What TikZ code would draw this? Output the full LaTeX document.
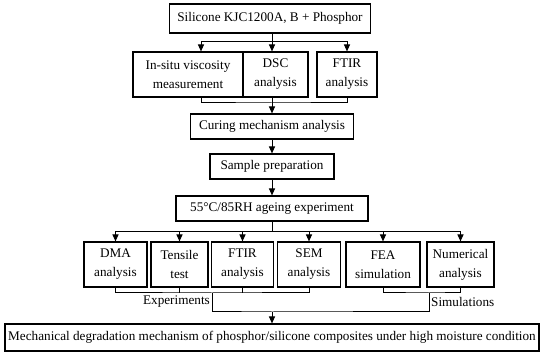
\documentclass[tikz,border=0pt]{standalone}
\usepackage{fontspec}
\setmainfont{Liberation Serif}
\usepackage{tikz}
\usetikzlibrary{arrows.meta}
\tikzset{
    box/.style={draw, line width=1.1pt, align=center, inner sep=1pt},
    link/.style={line width=1pt},
    arr/.style={link, -{Triangle[length=7pt, width=6pt]}},
}

\begin{document}
\begin{tikzpicture}[x=1pt, y=-1pt, font=\fontsize{13.2}{19}\selectfont]
    \useasboundingbox (0,0) rectangle (550,355);
    %% first stage: curing
    \node[box, minimum width=201pt, minimum height=29pt] (top) at (270,18.5) {Silicone KJC1200A, B + Phosphor};
    \node[box, minimum width=110pt, minimum height=45pt] (visc) at (188,74.5) {In-situ viscosity\\measurement};
    \node[box, minimum width=65pt, minimum height=45pt] (dsc) at (275.5,74.5) {DSC\\analysis};
    \node[box, minimum width=60pt, minimum height=45pt] (ftirA) at (347,74.5) {FTIR\\analysis};
    \node[box, minimum width=163pt, minimum height=25pt] (cure) at (272,126.5) {Curing mechanism analysis};
    \node[box, minimum width=124pt, minimum height=25pt] (sample) at (272,166.5) {Sample preparation};
    \node[box, minimum width=192pt, minimum height=25pt] (ageing) at (272,208.5) {55°C/85RH ageing experiment};
    %% second stage: tests after ageing
    \node[box, minimum width=63pt, minimum height=45pt] (dma) at (115.5,264.5) {DMA\\analysis};
    \node[box, minimum width=57pt, minimum height=45pt] (tensile) at (179.5,264.5) {Tensile\\test};
    \node[box, minimum width=62pt, minimum height=45pt] (ftirB) at (242.5,264.5) {FTIR\\analysis};
    \node[box, minimum width=63pt, minimum height=45pt] (sem) at (309,264.5) {SEM\\analysis};
    \node[box, minimum width=74pt, minimum height=45pt] (fea) at (383,264.5) {FEA\\simulation};
    \node[box, minimum width=67pt, minimum height=45pt] (num) at (460.5,264.5) {Numerical\\analysis};
    \node[box, minimum width=534pt, minimum height=27pt] (final) at (272,337.5) {Mechanical degradation mechanism of phosphor/silicone composites under high moisture condition};
    %% joints
    \coordinate (axis) at (272,0);
    \coordinate (b1) at (272,42);
    \coordinate (c1) at (272,103);
    \coordinate (b2) at (272,232);
    \coordinate (exp) at (212,293);
    \coordinate (sim) at (429,293);
    \coordinate (j) at (272,312);
    %% top fork
    \draw[link] (axis |- top.south) -- (b1);
    \draw[arr] (b1) -| ([xshift=13pt]visc.north);
    \draw[arr] (b1) -- (axis |- dsc.north);
    \draw[arr] (b1) -| (ftirA.north);
    %% gather into curing analysis
    \draw[link] ([xshift=13pt]visc.south) |- (c1) -| (ftirA.south);
    \draw[arr] (axis |- dsc.south) -- (cure.north);
    \draw[arr] (cure.south) -- (sample.north);
    \draw[arr] (sample.south) -- (ageing.north);
    %% second fork
    \draw[link] (ageing.south) -- (b2);
    \draw[arr] (b2) -| (dma.north);
    \draw[arr] (b2) -| (tensile.north);
    \draw[arr] (b2) -| (ftirB.north);
    \draw[arr] (b2) -| (sem.north);
    \draw[arr] (b2) -| (fea.north);
    \draw[arr] (b2) -| (num.north);
    %% experiments and simulations
    \draw[link] (dma.south) |- (exp) -| (sem.south);
    \draw[link] (tensile.south) -- (tensile.south |- exp);
    \draw[link] (ftirB.south) -- (ftirB.south |- exp);
    \draw[link] (fea.south) |- (sim) -| (num.south);
    \node[anchor=east, inner sep=1pt] (explbl) at (211,302) {Experiments};
    \node[anchor=west, inner sep=1pt] (simlbl) at (430,302) {Simulations};
    \draw[link] (exp) |- (j) -| (sim);
    \draw[arr] (j) -- (final.north);
\end{tikzpicture}
\end{document}
